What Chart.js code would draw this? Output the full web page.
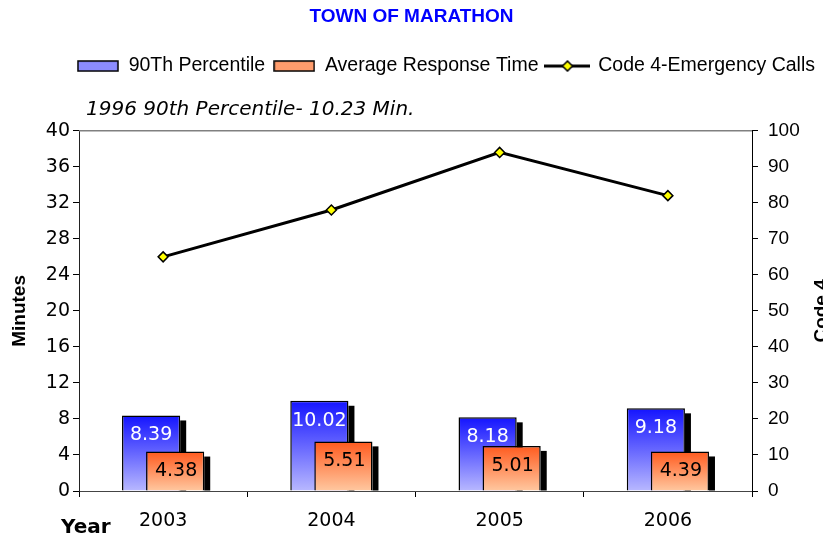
<!DOCTYPE html>
<html>
<head>
<meta charset="utf-8">
<title>Town of Marathon</title>
<script src="https://cdn.jsdelivr.net/npm/chart.js@4.4.0/dist/chart.umd.min.js"></script>
<style>
  html, body { margin: 0; padding: 0; background: #fff; overflow: hidden; }
</style>
</head>
<body>
<canvas id="responseChart" width="823" height="537"></canvas>
<script>
// Chart data
const years = ['2003', '2004', '2005', '2006'];
const percentile90 = [8.39, 10.02, 8.18, 9.18];
const avgResponse = [4.38, 5.51, 5.01, 4.39];
const code4Calls = [65, 78, 94, 82];
const minuteTicks = [0, 4, 8, 12, 16, 20, 24, 28, 32, 36, 40];
const callTicks = [0, 10, 20, 30, 40, 50, 60, 70, 80, 90, 100];
const noteText = '1996 90th Percentile- 10.23 Min.';

const ARIAL = '"Liberation Sans", Arial, sans-serif';
const VERDANA = '"DejaVu Sans", Verdana, sans-serif';

// Small canvases used as legend symbols
function makeSwatch(width, draw) {
    const c = document.createElement('canvas');
    c.width = width;
    c.height = 12;
    draw(c.getContext('2d'));
    return c;
}

const blueSwatch = makeSwatch(42, ctx => {
    ctx.fillStyle = '#8c8cff';
    ctx.fillRect(1, 1, 40, 10);
    ctx.strokeStyle = '#000';
    ctx.lineWidth = 1.5;
    ctx.strokeRect(1, 1, 40, 10);
});

const orangeSwatch = makeSwatch(42, ctx => {
    ctx.fillStyle = '#ff9c6c';
    ctx.fillRect(1, 1, 40, 10);
    ctx.strokeStyle = '#000';
    ctx.lineWidth = 1.5;
    ctx.strokeRect(1, 1, 40, 10);
});

const lineSwatch = makeSwatch(46, ctx => {
    ctx.strokeStyle = '#000';
    ctx.lineWidth = 3;
    ctx.beginPath();
    ctx.moveTo(0, 6);
    ctx.lineTo(46, 6);
    ctx.stroke();
    ctx.beginPath();
    ctx.moveTo(18, 6);
    ctx.lineTo(23, 1);
    ctx.lineTo(28, 6);
    ctx.lineTo(23, 11);
    ctx.closePath();
    ctx.fillStyle = '#ffff00';
    ctx.fill();
    ctx.lineWidth = 1.5;
    ctx.stroke();
});

// Vertical gradient running over each bar's own height
function barGradient(top, bottom) {
    return c => {
        const chart = c.chart;
        if (!chart.chartArea || c.type !== 'data') return top;
        const y = chart.scales.y;
        const g = chart.ctx.createLinearGradient(0, y.getPixelForValue(c.raw), 0, y.getPixelForValue(0));
        g.addColorStop(0, top);
        g.addColorStop(1, bottom);
        return g;
    };
}

// Black drop shadow on the right side of the bars
function drawShadows(chart, index) {
    const ctx = chart.ctx;
    ctx.save();
    ctx.fillStyle = '#000';
    chart.getDatasetMeta(index).data.forEach(bar => {
        const right = bar.x + bar.width / 2;
        ctx.fillRect(right, bar.y + 5, 6, bar.base - bar.y - 5);
    });
    ctx.restore();
}

// Orange bars are drawn over the blue ones, the line over both
const barOverlap = {
    id: 'barOverlap',
    afterLayout(chart) {
        // nudge the note a little to the right of the plot edge
        chart.boxes.forEach(box => {
            if (box.options && box.options.text === noteText) {
                box.left += 7;
                box.right += 7;
            }
        });
    },
    beforeDatasetsDraw(chart) {
        // grey frame line along the top of the plot
        const ctx = chart.ctx;
        const area = chart.chartArea;
        ctx.save();
        ctx.strokeStyle = '#808080';
        ctx.lineWidth = 1.5;
        ctx.beginPath();
        ctx.moveTo(area.left, area.top);
        ctx.lineTo(area.right, area.top);
        ctx.stroke();
        ctx.restore();
    },
    beforeDatasetDraw(chart, args) {
        if (args.index === 1) return false;
        if (args.index === 0) drawShadows(chart, 0);
    },
    afterDatasetDraw(chart, args) {
        if (args.index === 0) {
            drawShadows(chart, 1);
            chart.getDatasetMeta(1).controller.draw();
        }
    },
    afterDatasetsDraw(chart) {
        const ctx = chart.ctx;
        ctx.save();
        ctx.font = `19px ${VERDANA}`;
        ctx.textAlign = 'center';
        ctx.textBaseline = 'middle';
        chart.getDatasetMeta(0).data.forEach((bar, i) => {
            ctx.fillStyle = '#fff';
            ctx.fillText(percentile90[i].toFixed(2), bar.x, bar.y + 20);
        });
        chart.getDatasetMeta(1).data.forEach((bar, i) => {
            ctx.fillStyle = '#000';
            ctx.fillText(avgResponse[i].toFixed(2), bar.x + 1, bar.y + 20);
        });
        ctx.restore();
    },
    afterDraw(chart) {
        const ctx = chart.ctx;
        const area = chart.chartArea;
        ctx.save();
        ctx.fillStyle = '#000';
        ctx.textBaseline = 'middle';
        ctx.font = `bold 20px ${VERDANA}`;
        ctx.textAlign = 'left';
        ctx.fillText('Year', 61, 528);
        ctx.translate(822, (area.top + area.bottom) / 2);
        ctx.rotate(-Math.PI / 2);
        ctx.font = `bold 19px ${ARIAL}`;
        ctx.textAlign = 'center';
        ctx.fillText('Code 4', 0, 0);
        ctx.restore();
    }
};

const ctx = document.getElementById('responseChart').getContext('2d');
const responseChart = new Chart(ctx, {
    type: 'bar',
    data: {
        labels: years,
        datasets: [{
            label: '90Th Percentile',
            data: percentile90,
            backgroundColor: barGradient('#1414ff', '#b8b8ff'),
            borderColor: '#000',
            borderWidth: 1.5,
            categoryPercentage: 0.2857,
            barPercentage: 2.42,
            yAxisID: 'y',
            order: 1
        }, {
            label: 'Average Response Time',
            data: avgResponse,
            backgroundColor: barGradient('#ff5a1e', '#ffc8a0'),
            borderColor: '#000',
            borderWidth: 1.5,
            categoryPercentage: 0.2857,
            barPercentage: 2.42,
            yAxisID: 'y',
            order: 2
        }, {
            type: 'line',
            label: 'Code 4-Emergency Calls',
            data: code4Calls,
            yAxisID: 'y1',
            borderColor: '#000',
            borderWidth: 3,
            tension: 0,
            pointStyle: 'rectRot',
            pointRadius: 5,
            pointBackgroundColor: '#ffff00',
            pointBorderColor: '#000',
            pointBorderWidth: 1.5,
            order: 0
        }]
    },
    options: {
        responsive: false,
        animation: false,
        layout: { padding: 0 },
        plugins: {
            title: {
                display: true,
                text: 'TOWN OF MARATHON',
                color: '#0000ff',
                font: { family: ARIAL, size: 19, weight: 'bold' },
                padding: { top: 5, bottom: 20.5 }
            },
            legend: {
                position: 'top',
                align: 'end',
                labels: {
                    usePointStyle: true,
                    pointStyleWidth: 42,
                    padding: 8,
                    color: '#000',
                    font: { family: ARIAL, size: 19.5 },
                    generateLabels: chart => chart.data.datasets.map((ds, i) => ({
                        text: ds.label,
                        pointStyle: [blueSwatch, orangeSwatch, lineSwatch][i],
                        datasetIndex: i,
                        fontColor: '#000',
                        lineWidth: 0,
                        hidden: false
                    }))
                }
            },
            subtitle: {
                display: true,
                text: noteText,
                align: 'start',
                fullSize: false,
                weight: 500,
                color: '#000',
                font: { family: VERDANA, size: 20, style: 'italic' },
                padding: { top: 12, bottom: 9 }
            },
            tooltip: { enabled: false }
        },
        scales: {
            x: {
                offset: true,
                grid: { display: true, drawOnChartArea: false, offset: true, tickLength: 6, color: '#000' },
                border: { display: true, color: '#444' },
                ticks: { color: '#000', font: { family: VERDANA, size: 19 }, padding: 13 },
                afterFit: s => { s.height = 46; }
            },
            y: {
                position: 'left',
                min: 0,
                max: 40,
                afterBuildTicks: s => { s.ticks = minuteTicks.map(v => ({ value: v })); },
                grid: { drawOnChartArea: false, color: '#000', tickLength: 6 },
                border: { color: '#222' },
                ticks: { color: '#000', font: { family: VERDANA, size: 19 }, padding: 3 },
                title: {
                    display: true,
                    text: 'Minutes',
                    color: '#000',
                    font: { family: ARIAL, size: 19, weight: 'bold' },
                    padding: { top: 8, bottom: 0 }
                },
                afterFit: s => { s.width = 79; }
            },
            y1: {
                position: 'right',
                min: 0,
                max: 100,
                afterBuildTicks: s => { s.ticks = callTicks.map(v => ({ value: v })); },
                grid: { drawOnChartArea: false, tickLength: 6, color: '#000' },
                border: { color: '#000' },
                ticks: { color: '#000', font: { family: ARIAL, size: 19 }, padding: 10 },
                afterFit: s => { s.width = 71; }
            }
        }
    },
    plugins: [barOverlap]
});
</script>
</body>
</html>
